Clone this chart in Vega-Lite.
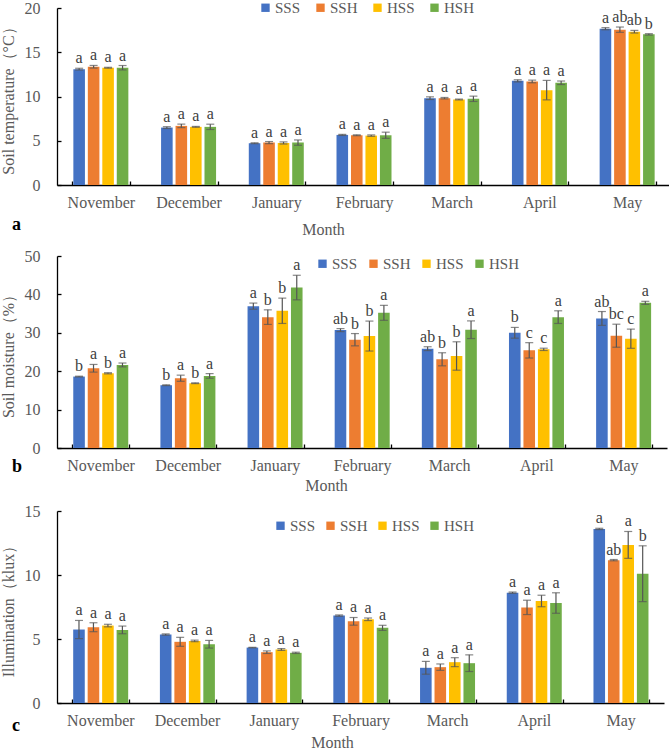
{
  "$schema": "https://vega.github.io/schema/vega-lite/v6.json",
  "padding": {"left": 0, "top": 0, "right": 0, "bottom": 0},
  "background": "white",
  "config": {
    "view": {"stroke": null},
    "font": "Liberation Serif",
    "axis": {"domainColor": "#000000", "domainWidth": 1.3, "tickColor": "#000000", "tickWidth": 1.3, "tickSize": -4, "grid": false, "labelOverlap": false, "labelFont": "Liberation Serif", "labelFontSize": 16, "labelColor": "#595959", "titleFont": "Liberation Serif", "titleFontSize": 16, "titleColor": "#595959", "titleFontWeight": "normal"},
    "axisX": {"labelAngle": 0, "tickBand": "extent", "labelPadding": 13, "titleBaseline": "top"},
    "axisY": {"labelPadding": 21, "titlePadding": 8, "tickCount": 12},
    "legend": {"symbolType": "square", "symbolSize": 70, "symbolStrokeWidth": 0, "labelFont": "Liberation Serif", "labelFontSize": 15, "labelColor": "#595959", "labelOffset": 2, "columnPadding": 12, "padding": 0, "direction": "horizontal", "orient": "none"},
    "title": {"font": "Liberation Serif", "fontSize": 18, "fontWeight": "bold", "color": "#000000", "orient": "bottom", "anchor": "start", "frame": "group"}
  },
  "bounds": "flush",
  "spacing": 71,
  "resolve": {"scale": {"color": "independent"}, "legend": {"color": "independent"}},
  "vconcat": [
    {
      "width": 614, "height": 177,
      "title": {"text": "a", "dx": -45, "offset": -21},
      "data": {"values": [
        {"month": "November", "trt": "SSS", "mean": 13.09, "sd": 0.1, "sig": "a"},
        {"month": "November", "trt": "SSH", "mean": 13.36, "sd": 0.15, "sig": "a"},
        {"month": "November", "trt": "HSS", "mean": 13.25, "sd": 0.05, "sig": "a"},
        {"month": "November", "trt": "HSH", "mean": 13.25, "sd": 0.25, "sig": "a"},
        {"month": "December", "trt": "SSS", "mean": 6.49, "sd": 0.1, "sig": "a"},
        {"month": "December", "trt": "SSH", "mean": 6.68, "sd": 0.2, "sig": "a"},
        {"month": "December", "trt": "HSS", "mean": 6.57, "sd": 0.05, "sig": "a"},
        {"month": "December", "trt": "HSH", "mean": 6.57, "sd": 0.3, "sig": "a"},
        {"month": "January", "trt": "SSS", "mean": 4.72, "sd": 0.05, "sig": "a"},
        {"month": "January", "trt": "SSH", "mean": 4.79, "sd": 0.12, "sig": "a"},
        {"month": "January", "trt": "HSS", "mean": 4.75, "sd": 0.12, "sig": "a"},
        {"month": "January", "trt": "HSH", "mean": 4.79, "sd": 0.3, "sig": "a"},
        {"month": "February", "trt": "SSS", "mean": 5.66, "sd": 0.06, "sig": "a"},
        {"month": "February", "trt": "SSH", "mean": 5.62, "sd": 0.05, "sig": "a"},
        {"month": "February", "trt": "HSS", "mean": 5.58, "sd": 0.08, "sig": "a"},
        {"month": "February", "trt": "HSH", "mean": 5.62, "sd": 0.35, "sig": "a"},
        {"month": "March", "trt": "SSS", "mean": 9.81, "sd": 0.15, "sig": "a"},
        {"month": "March", "trt": "SSH", "mean": 9.81, "sd": 0.08, "sig": "a"},
        {"month": "March", "trt": "HSS", "mean": 9.66, "sd": 0.05, "sig": "a"},
        {"month": "March", "trt": "HSH", "mean": 9.74, "sd": 0.3, "sig": "a"},
        {"month": "April", "trt": "SSS", "mean": 11.77, "sd": 0.12, "sig": "a"},
        {"month": "April", "trt": "SSH", "mean": 11.7, "sd": 0.15, "sig": "a"},
        {"month": "April", "trt": "HSS", "mean": 10.72, "sd": 1.1, "sig": "a"},
        {"month": "April", "trt": "HSH", "mean": 11.55, "sd": 0.2, "sig": "a"},
        {"month": "May", "trt": "SSS", "mean": 17.66, "sd": 0.12, "sig": "a"},
        {"month": "May", "trt": "SSH", "mean": 17.55, "sd": 0.3, "sig": "ab"},
        {"month": "May", "trt": "HSS", "mean": 17.32, "sd": 0.15, "sig": "ab"},
        {"month": "May", "trt": "HSH", "mean": 17.02, "sd": 0.08, "sig": "b"}
      ]},
      "transform": [{"calculate": "datum.mean + datum.sd", "as": "hi"}, {"calculate": "datum.mean - datum.sd", "as": "lo"}],
      "encoding": {
        "x": {"field": "month", "type": "nominal", "sort": ["November", "December", "January", "February", "March", "April", "May"], "scale": {"paddingInner": 0.34, "paddingOuter": 0.17}, "axis": {"title": "Month", "titleX": 266, "titleY": 36}},
        "xOffset": {"field": "trt", "type": "nominal", "sort": ["SSS", "SSH", "HSS", "HSH"], "scale": {"paddingInner": 0.2, "paddingOuter": 0.1}}
      },
      "layer": [
        {"mark": {"type": "bar"}, "encoding": {
          "y": {"field": "mean", "type": "quantitative", "scale": {"domain": [0, 20], "nice": false}, "axis": {"values": [0, 5, 10, 15, 20], "tickCount": 12, "labelOverlap": false, "title": "Soil temperature（°C）"}},
          "color": {"field": "trt", "type": "nominal", "sort": ["SSS", "SSH", "HSS", "HSH"], "scale": {"domain": ["SSS", "SSH", "HSS", "HSH"], "range": ["#4472C4", "#ED7D31", "#FFC000", "#70AD47"]}, "legend": {"title": null, "orient": "none", "legendX": 201, "legendY": -8, "direction": "horizontal", "columnPadding": 12, "labelFont": "Liberation Serif", "labelFontSize": 15}}
        }},
        {"mark": {"type": "rule", "color": "#555555", "strokeWidth": 1.2}, "encoding": {"y": {"field": "lo", "type": "quantitative"}, "y2": {"field": "hi"}}},
        {"mark": {"type": "tick", "color": "#555555", "size": 8, "thickness": 1.2, "orient": "horizontal"}, "encoding": {"y": {"field": "lo", "type": "quantitative"}}},
        {"mark": {"type": "tick", "color": "#555555", "size": 8, "thickness": 1.2, "orient": "horizontal"}, "encoding": {"y": {"field": "hi", "type": "quantitative"}}},
        {"mark": {"type": "text", "font": "Liberation Serif", "fontSize": 16, "color": "#404040", "baseline": "alphabetic", "dy": -5}, "encoding": {"y": {"field": "hi", "type": "quantitative"}, "text": {"field": "sig"}}}
      ]
    },
    {
      "bounds": "flush",
      "spacing": 63,
      "resolve": {"scale": {"color": "independent"}, "legend": {"color": "independent"}},
      "vconcat": [
        {
          "width": 610, "height": 192,
          "title": {"text": "b", "dx": -45, "offset": -35},
          "data": {"values": [
            {"month": "November", "trt": "SSS", "mean": 18.6, "sd": 0.1, "sig": "b"},
            {"month": "November", "trt": "SSH", "mean": 20.76, "sd": 1.0, "sig": "a"},
            {"month": "November", "trt": "HSS", "mean": 19.46, "sd": 0.15, "sig": "b"},
            {"month": "November", "trt": "HSH", "mean": 21.63, "sd": 0.5, "sig": "a"},
            {"month": "December", "trt": "SSS", "mean": 16.35, "sd": 0.1, "sig": "b"},
            {"month": "December", "trt": "SSH", "mean": 18.17, "sd": 0.8, "sig": "a"},
            {"month": "December", "trt": "HSS", "mean": 16.87, "sd": 0.1, "sig": "b"},
            {"month": "December", "trt": "HSH", "mean": 18.77, "sd": 0.6, "sig": "a"},
            {"month": "January", "trt": "SSS", "mean": 36.94, "sd": 0.8, "sig": "a"},
            {"month": "January", "trt": "SSH", "mean": 34.08, "sd": 1.9, "sig": "b"},
            {"month": "January", "trt": "HSS", "mean": 35.73, "sd": 3.3, "sig": "b"},
            {"month": "January", "trt": "HSH", "mean": 41.78, "sd": 3.2, "sig": "a"},
            {"month": "February", "trt": "SSS", "mean": 30.7, "sd": 0.4, "sig": "ab"},
            {"month": "February", "trt": "SSH", "mean": 28.2, "sd": 1.6, "sig": "b"},
            {"month": "February", "trt": "HSS", "mean": 29.15, "sd": 3.9, "sig": "b"},
            {"month": "February", "trt": "HSH", "mean": 35.2, "sd": 1.95, "sig": "a"},
            {"month": "March", "trt": "SSS", "mean": 25.87, "sd": 0.5, "sig": "ab"},
            {"month": "March", "trt": "SSH", "mean": 23.1, "sd": 1.7, "sig": "b"},
            {"month": "March", "trt": "HSS", "mean": 23.96, "sd": 3.7, "sig": "b"},
            {"month": "March", "trt": "HSH", "mean": 30.8, "sd": 2.3, "sig": "a"},
            {"month": "April", "trt": "SSS", "mean": 30.0, "sd": 1.4, "sig": "b"},
            {"month": "April", "trt": "SSH", "mean": 25.43, "sd": 2.0, "sig": "c"},
            {"month": "April", "trt": "HSS", "mean": 25.69, "sd": 0.3, "sig": "c"},
            {"month": "April", "trt": "HSH", "mean": 34.08, "sd": 1.65, "sig": "a"},
            {"month": "May", "trt": "SSS", "mean": 33.74, "sd": 1.8, "sig": "ab"},
            {"month": "May", "trt": "SSH", "mean": 29.24, "sd": 3.0, "sig": "bc"},
            {"month": "May", "trt": "HSS", "mean": 28.46, "sd": 2.5, "sig": "c"},
            {"month": "May", "trt": "HSH", "mean": 37.8, "sd": 0.4, "sig": "a"}
          ]},
          "transform": [{"calculate": "datum.mean + datum.sd", "as": "hi"}, {"calculate": "datum.mean - datum.sd", "as": "lo"}],
          "encoding": {
            "x": {"field": "month", "type": "nominal", "sort": ["November", "December", "January", "February", "March", "April", "May"], "scale": {"paddingInner": 0.34, "paddingOuter": 0.17}, "axis": {"title": "Month", "titleX": 269, "titleY": 29}},
            "xOffset": {"field": "trt", "type": "nominal", "sort": ["SSS", "SSH", "HSS", "HSH"], "scale": {"paddingInner": 0.2, "paddingOuter": 0.1}}
          },
          "layer": [
            {"mark": {"type": "bar"}, "encoding": {
              "y": {"field": "mean", "type": "quantitative", "scale": {"domain": [0, 50], "nice": false}, "axis": {"values": [0, 10, 20, 30, 40, 50], "tickCount": 12, "labelOverlap": false, "title": "Soil moisture（%）"}},
              "color": {"field": "trt", "type": "nominal", "sort": ["SSS", "SSH", "HSS", "HSH"], "scale": {"domain": ["SSS", "SSH", "HSS", "HSH"], "range": ["#4472C4", "#ED7D31", "#FFC000", "#70AD47"]}, "legend": {"title": null, "orient": "none", "legendX": 258, "legendY": 0, "direction": "horizontal", "columnPadding": 8, "labelFont": "Liberation Serif", "labelFontSize": 15}}
            }},
            {"mark": {"type": "rule", "color": "#555555", "strokeWidth": 1.2}, "encoding": {"y": {"field": "lo", "type": "quantitative"}, "y2": {"field": "hi"}}},
            {"mark": {"type": "tick", "color": "#555555", "size": 8, "thickness": 1.2, "orient": "horizontal"}, "encoding": {"y": {"field": "lo", "type": "quantitative"}}},
            {"mark": {"type": "tick", "color": "#555555", "size": 8, "thickness": 1.2, "orient": "horizontal"}, "encoding": {"y": {"field": "hi", "type": "quantitative"}}},
            {"mark": {"type": "text", "font": "Liberation Serif", "fontSize": 16, "color": "#404040", "baseline": "alphabetic", "dy": -5}, "encoding": {"y": {"field": "hi", "type": "quantitative"}, "text": {"field": "sig"}}}
          ]
        },
        {
          "width": 607, "height": 192,
          "title": {"text": "c", "dx": -45, "offset": -33},
          "data": {"values": [
            {"month": "November", "trt": "SSS", "mean": 5.74, "sd": 0.71, "sig": "a"},
            {"month": "November", "trt": "SSH", "mean": 5.92, "sd": 0.35, "sig": "a"},
            {"month": "November", "trt": "HSS", "mean": 6.05, "sd": 0.1, "sig": "a"},
            {"month": "November", "trt": "HSH", "mean": 5.71, "sd": 0.3, "sig": "a"},
            {"month": "December", "trt": "SSS", "mean": 5.35, "sd": 0.05, "sig": "a"},
            {"month": "December", "trt": "SSH", "mean": 4.78, "sd": 0.35, "sig": "a"},
            {"month": "December", "trt": "HSS", "mean": 4.85, "sd": 0.06, "sig": "a"},
            {"month": "December", "trt": "HSH", "mean": 4.59, "sd": 0.3, "sig": "a"},
            {"month": "January", "trt": "SSS", "mean": 4.33, "sd": 0.02, "sig": "a"},
            {"month": "January", "trt": "SSH", "mean": 3.97, "sd": 0.1, "sig": "a"},
            {"month": "January", "trt": "HSS", "mean": 4.18, "sd": 0.07, "sig": "a"},
            {"month": "January", "trt": "HSH", "mean": 3.92, "sd": 0.05, "sig": "a"},
            {"month": "February", "trt": "SSS", "mean": 6.83, "sd": 0.05, "sig": "a"},
            {"month": "February", "trt": "SSH", "mean": 6.38, "sd": 0.3, "sig": "a"},
            {"month": "February", "trt": "HSS", "mean": 6.54, "sd": 0.1, "sig": "a"},
            {"month": "February", "trt": "HSH", "mean": 5.87, "sd": 0.2, "sig": "a"},
            {"month": "March", "trt": "SSS", "mean": 2.75, "sd": 0.5, "sig": "a"},
            {"month": "March", "trt": "SSH", "mean": 2.8, "sd": 0.25, "sig": "a"},
            {"month": "March", "trt": "HSS", "mean": 3.19, "sd": 0.35, "sig": "a"},
            {"month": "March", "trt": "HSH", "mean": 3.11, "sd": 0.65, "sig": "a"},
            {"month": "April", "trt": "SSS", "mean": 8.62, "sd": 0.05, "sig": "a"},
            {"month": "April", "trt": "SSH", "mean": 7.47, "sd": 0.56, "sig": "a"},
            {"month": "April", "trt": "HSS", "mean": 7.97, "sd": 0.45, "sig": "a"},
            {"month": "April", "trt": "HSH", "mean": 7.81, "sd": 0.8, "sig": "a"},
            {"month": "May", "trt": "SSS", "mean": 13.6, "sd": 0.05, "sig": "a"},
            {"month": "May", "trt": "SSH", "mean": 11.16, "sd": 0.05, "sig": "ab"},
            {"month": "May", "trt": "HSS", "mean": 12.35, "sd": 1.05, "sig": "a"},
            {"month": "May", "trt": "HSH", "mean": 10.1, "sd": 2.18, "sig": "b"}
          ]},
          "transform": [{"calculate": "datum.mean + datum.sd", "as": "hi"}, {"calculate": "datum.mean - datum.sd", "as": "lo"}],
          "encoding": {
            "x": {"field": "month", "type": "nominal", "sort": ["November", "December", "January", "February", "March", "April", "May"], "scale": {"paddingInner": 0.34, "paddingOuter": 0.17}, "axis": {"title": "Month", "titleX": 275, "titleY": 31}},
            "xOffset": {"field": "trt", "type": "nominal", "sort": ["SSS", "SSH", "HSS", "HSH"], "scale": {"paddingInner": 0.2, "paddingOuter": 0.1}}
          },
          "layer": [
            {"mark": {"type": "bar"}, "encoding": {
              "y": {"field": "mean", "type": "quantitative", "scale": {"domain": [0, 15], "nice": false}, "axis": {"values": [0, 5, 10, 15], "tickCount": 12, "labelOverlap": false, "title": "Illumination（klux）"}},
              "color": {"field": "trt", "type": "nominal", "sort": ["SSS", "SSH", "HSS", "HSH"], "scale": {"domain": ["SSS", "SSH", "HSS", "HSH"], "range": ["#4472C4", "#ED7D31", "#FFC000", "#70AD47"]}, "legend": {"title": null, "orient": "none", "legendX": 216, "legendY": 7, "direction": "horizontal", "columnPadding": 7, "labelFont": "Liberation Serif", "labelFontSize": 15}}
            }},
            {"mark": {"type": "rule", "color": "#555555", "strokeWidth": 1.2}, "encoding": {"y": {"field": "lo", "type": "quantitative"}, "y2": {"field": "hi"}}},
            {"mark": {"type": "tick", "color": "#555555", "size": 8, "thickness": 1.2, "orient": "horizontal"}, "encoding": {"y": {"field": "lo", "type": "quantitative"}}},
            {"mark": {"type": "tick", "color": "#555555", "size": 8, "thickness": 1.2, "orient": "horizontal"}, "encoding": {"y": {"field": "hi", "type": "quantitative"}}},
            {"mark": {"type": "text", "font": "Liberation Serif", "fontSize": 16, "color": "#404040", "baseline": "alphabetic", "dy": -5}, "encoding": {"y": {"field": "hi", "type": "quantitative"}, "text": {"field": "sig"}}}
          ]
        }
      ]
    }
  ]
}
